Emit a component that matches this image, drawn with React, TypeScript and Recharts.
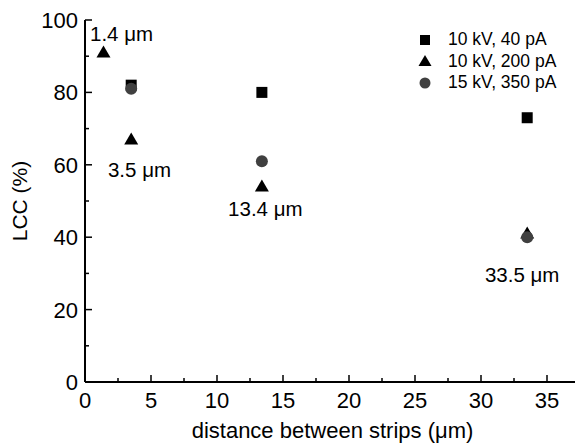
import { ScatterChart, Scatter, XAxis, YAxis, ReferenceDot, Legend } from 'recharts';

// distance between strips (um) and LCC (%) per measurement condition
const DIST_40PA = [3.5, 13.4, 33.5];
const LCC_40PA = [82, 80, 73];
const DIST_200PA = [1.4, 3.5, 13.4, 33.5];
const LCC_200PA = [91, 67, 54, 41];
const DIST_350PA = [3.5, 13.4, 33.5];
const LCC_350PA = [81, 61, 40];

const SERIES_NAMES = ['10 kV, 40 pA', '10 kV, 200 pA', '15 kV, 350 pA'];

const X_TICKS = [0, 2.5, 5, 7.5, 10, 12.5, 15, 17.5, 20, 22.5, 25, 27.5, 30, 32.5, 35, 37.5];
const Y_TICKS = [0, 10, 20, 30, 40, 50, 60, 70, 80, 90, 100];

// strip-width annotations: text start (x) and baseline (y) in data units
const NOTE_TEXT = ['1.4 μm', '3.5 μm', '13.4 μm', '33.5 μm'];
const NOTE_X = [0.38, 1.74, 10.84, 30.3];
const NOTE_Y = [94.3, 56.7, 45.9, 27.6];

const FONT = '"Liberation Sans", Arial, sans-serif';
const CIRCLE_FILL = '#404040';

const toPoints = (xs: number[], ys: number[]) => xs.map((x, i) => ({ x, y: ys[i] }));

const squareShape = (p: any) => <rect x={p.cx - 5.5} y={p.cy - 5.5} width={11} height={11} fill="#000" />;
const triangleShape = (p: any) => (
  <polygon points={`${p.cx - 7},${p.cy + 5} ${p.cx + 7},${p.cy + 5} ${p.cx},${p.cy - 7}`} fill="#000" />
);
const circleShape = (p: any) => <circle cx={p.cx} cy={p.cy} r={6} fill={CIRCLE_FILL} />;

const isMajor = (v: number, step: number) => Math.abs(v / step - Math.round(v / step)) < 1e-6;

const BottomTick = (p: any) => {
  const major = isMajor(p.payload.value, 5);
  return (
    <g>
      <line x1={p.x} x2={p.x} y1={p.y} y2={p.y - (major ? 7 : 4)} stroke="#000" strokeWidth={1.5} />
      {major && (
        <text x={p.x} y={p.y + 26} textAnchor="middle" fontSize={22} fill="#000" fontFamily={FONT}>
          {p.payload.value}
        </text>
      )}
    </g>
  );
};

const TopTick = (p: any) => {
  const major = isMajor(p.payload.value, 5);
  return <line x1={p.x} x2={p.x} y1={p.y} y2={p.y + (major ? 7 : 4)} stroke="#000" strokeWidth={1.5} />;
};

const LeftTick = (p: any) => {
  const major = isMajor(p.payload.value, 20);
  return (
    <g>
      <line x1={p.x} x2={p.x + (major ? 7 : 4)} y1={p.y} y2={p.y} stroke="#000" strokeWidth={1.5} />
      {major && (
        <text x={p.x - 7} y={p.y + 8} textAnchor="end" fontSize={22} fill="#000" fontFamily={FONT}>
          {p.payload.value}
        </text>
      )}
    </g>
  );
};

const RightTick = (p: any) => {
  const major = isMajor(p.payload.value, 20);
  return <line x1={p.x} x2={p.x - (major ? 7 : 4)} y1={p.y} y2={p.y} stroke="#000" strokeWidth={1.5} />;
};

const legendIcon = (i: number) => {
  if (i === 0) return <rect x={3} y={3} width={10} height={10} fill="#000" />;
  if (i === 1) return <polygon points="1.5,13 14.5,13 8,2" fill="#000" />;
  return <circle cx={8} cy={8} r={5.5} fill={CIRCLE_FILL} />;
};

const renderLegend = () => (
  <div style={{ fontFamily: FONT, fontSize: 17.5, color: '#000' }}>
    {SERIES_NAMES.map((name, i) => (
      <div key={name} style={{ display: 'flex', alignItems: 'center', height: 21.5 }}>
        <svg width={16} height={16} style={{ marginRight: 15 }}>
          {legendIcon(i)}
        </svg>
        <span>{name}</span>
      </div>
    ))}
  </div>
);

export default function App() {
  return (
    <div style={{ position: 'absolute', left: 0, top: 0, width: 575, height: 448, overflow: 'hidden', background: '#fff' }}>
      <ScatterChart width={585} height={448} margin={{ top: 20, right: 5, bottom: 0, left: 0 }} style={{ fontFamily: FONT }}>
        <XAxis
          type="number"
          dataKey="x"
          domain={[0, 37.5]}
          ticks={X_TICKS}
          interval={0}
          height={66}
          tickLine={false}
          tickSize={0}
          tickMargin={0}
          tick={<BottomTick />}
          axisLine={{ stroke: '#000', strokeWidth: 2 }}
          label={(props: any) => {
            const vb = props.viewBox;
            return (
              <text x={vb.x + vb.width / 2} y={vb.y + 56} textAnchor="middle" fontSize={22} fill="#000" fontFamily={FONT}>
                distance between strips (μm)
              </text>
            );
          }}
        />
        <XAxis
          xAxisId="top"
          orientation="top"
          type="number"
          domain={[0, 37.5]}
          ticks={X_TICKS}
          interval={0}
          height={0}
          tickLine={false}
          tickSize={0}
          tickMargin={0}
          tick={<TopTick />}
          axisLine={{ stroke: '#000', strokeWidth: 2 }}
        />
        <YAxis
          type="number"
          dataKey="y"
          domain={[0, 100]}
          ticks={Y_TICKS}
          interval={0}
          width={85}
          tickLine={false}
          tickSize={0}
          tickMargin={0}
          tick={<LeftTick />}
          axisLine={{ stroke: '#000', strokeWidth: 2 }}
          label={(props: any) => {
            const vb = props.viewBox;
            const cy = vb.y + vb.height / 2;
            return (
              <text x={27} y={cy} transform={`rotate(-90, 27, ${cy})`} textAnchor="middle" fontSize={21} fill="#000" fontFamily={FONT}>
                LCC (%)
              </text>
            );
          }}
        />
        <YAxis
          yAxisId="right"
          orientation="right"
          type="number"
          domain={[0, 100]}
          ticks={Y_TICKS}
          interval={0}
          width={0}
          tickLine={false}
          tickSize={0}
          tickMargin={0}
          tick={<RightTick />}
          axisLine={{ stroke: '#000', strokeWidth: 2 }}
        />
        <Legend
          content={renderLegend}
          layout="vertical"
          align="center"
          verticalAlign="middle"
          wrapperStyle={{ top: 29, left: 417, width: 158 }}
        />
        <Scatter name={SERIES_NAMES[0]} data={toPoints(DIST_40PA, LCC_40PA)} shape={squareShape} fill="#000" isAnimationActive={false} />
        <Scatter name={SERIES_NAMES[1]} data={toPoints(DIST_200PA, LCC_200PA)} shape={triangleShape} fill="#000" isAnimationActive={false} />
        <Scatter name={SERIES_NAMES[2]} data={toPoints(DIST_350PA, LCC_350PA)} shape={circleShape} fill={CIRCLE_FILL} isAnimationActive={false} />
        {NOTE_TEXT.map((t, i) => (
          <ReferenceDot
            key={t}
            x={NOTE_X[i]}
            y={NOTE_Y[i]}
            r={0}
            shape={(p: any) => (
              <text x={p.cx} y={p.cy} fontSize={20.5} fill="#000" fontFamily={FONT}>
                {t}
              </text>
            )}
          />
        ))}
      </ScatterChart>
    </div>
  );
}
